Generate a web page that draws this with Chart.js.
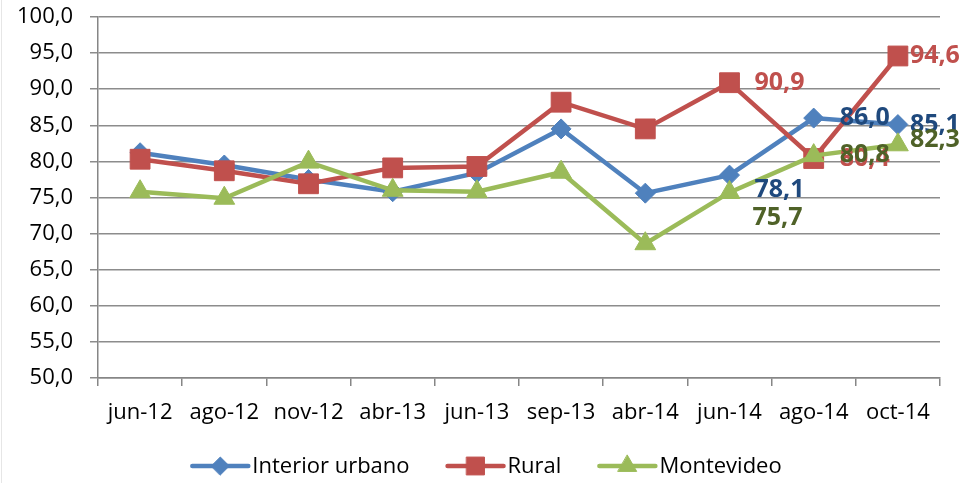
<!DOCTYPE html>
<html>
<head>
<meta charset="utf-8">
<script src="https://cdn.jsdelivr.net/npm/chart.js@4"></script>
<style>
  html, body { margin: 0; padding: 0; background: #fff; }
  #wrap { width: 963px; height: 483px; position: relative; }
</style>
</head>
<body>
<div id="wrap"><canvas id="chart" width="963" height="483"></canvas></div>
<script>
const categories = ["jun-12", "ago-12", "nov-12", "abr-13", "jun-13", "sep-13", "abr-14", "jun-14", "ago-14", "oct-14"];
const interiorUrbano = [81.2, 79.5, 77.5, 75.8, 78.4, 84.5, 75.6, 78.1, 86.0, 85.1];
const rural = [80.3, 78.7, 76.9, 79.1, 79.3, 88.2, 84.5, 90.9, 80.4, 94.6];
const montevideo = [75.8, 74.9, 79.9, 76.0, 75.8, 78.5, 68.6, 75.7, 80.8, 82.3];
const seriesNames = ["Interior urbano", "Rural", "Montevideo"];
const yMin = 50;
const yMax = 100;
const yStep = 5;
const labeledPoints = [7, 8, 9];

const fmt = (v) => v.toFixed(1).replace(".", ",");
const FONT = "'Open Sans', 'Noto Sans', sans-serif";

// label offsets (dx, dy) relative to the point, per series
const labelStyle = [
  { color: "#1F497D", offsets: [[25, 15], [26, 0], [12, 0]] },
  { color: "#C0504D", offsets: [[25, 0], [26, 0], [12, 0]] },
  { color: "#4F6228", offsets: [[23, 25], [26, -1], [12, -5]] },
];

const valueLabels = {
  id: "valueLabels",
  afterDatasetsDraw(chart) {
    const ctx = chart.ctx;
    ctx.save();
    ctx.font = "bold 25px " + FONT;
    ctx.textAlign = "left";
    ctx.textBaseline = "middle";
    chart.data.datasets.forEach((ds, di) => {
      const meta = chart.getDatasetMeta(di);
      labeledPoints.forEach((idx, k) => {
        const pt = meta.data[idx];
        const [dx, dy] = labelStyle[di].offsets[k];
        ctx.fillStyle = labelStyle[di].color;
        ctx.fillText(fmt(ds.data[idx]), pt.x + dx, pt.y + dy);
      });
    });
    ctx.restore();
  },
};

const lineLegend = {
  id: "lineLegend",
  afterDraw(chart) {
    const ctx = chart.ctx;
    const y = 466;
    const lineLen = 56;
    const gap = 4;
    const itemGap = 38;
    ctx.save();
    // faint frame edge on the left, as in the source
    ctx.strokeStyle = "#e6e6e6";
    ctx.lineWidth = 1;
    ctx.beginPath();
    ctx.moveTo(1.5, 0);
    ctx.lineTo(1.5, chart.height);
    ctx.stroke();

    ctx.font = "22px " + FONT;
    ctx.textBaseline = "middle";
    const items = chart.data.datasets.map((ds) => ({ ds, w: ctx.measureText(ds.label).width }));
    const total = items.reduce((s, it) => s + lineLen + gap + it.w, 0) + itemGap * (items.length - 1);
    let x = 487 - total / 2;
    items.forEach(({ ds, w }) => {
      ctx.strokeStyle = ds.borderColor;
      ctx.lineWidth = 4.5;
      ctx.lineCap = "round";
      ctx.beginPath();
      ctx.moveTo(x, y);
      ctx.lineTo(x + lineLen, y);
      ctx.stroke();
      ctx.fillStyle = ds.backgroundColor;
      ctx.strokeStyle = ds.borderColor;
      ctx.lineWidth = 1;
      Chart.helpers.drawPoint(ctx, { pointStyle: ds.pointStyle, radius: ds.pointRadius * 0.9, borderWidth: 1 }, x + lineLen / 2, y);
      ctx.fillStyle = "#000";
      ctx.fillText(ds.label, x + lineLen + gap, y + 1);
      x += lineLen + gap + w + itemGap;
    });
    ctx.restore();
  },
};

new Chart(document.getElementById("chart"), {
  type: "line",
  data: {
    labels: categories,
    datasets: [
      {
        label: seriesNames[0],
        data: interiorUrbano,
        borderColor: "#4F81BD",
        backgroundColor: "#4F81BD",
        borderWidth: 4.5,
        pointStyle: "rectRot",
        pointRadius: 10,
        pointBorderWidth: 1,
        order: 3,
      },
      {
        label: seriesNames[1],
        data: rural,
        borderColor: "#C0504D",
        backgroundColor: "#C0504D",
        borderWidth: 4.5,
        pointStyle: "rect",
        pointRadius: 14,
        pointBorderWidth: 1,
        order: 2,
      },
      {
        label: seriesNames[2],
        data: montevideo,
        borderColor: "#9BBB59",
        backgroundColor: "#9BBB59",
        borderWidth: 4.5,
        pointStyle: "triangle",
        pointRadius: 12,
        pointBorderWidth: 1,
        order: 1,
      },
    ],
  },
  options: {
    responsive: false,
    animation: false,
    devicePixelRatio: 1,
    layout: { padding: { top: 17, right: 23, bottom: 55, left: 0 } },
    plugins: {
      legend: { display: false },
      tooltip: { enabled: false },
    },
    scales: {
      x: {
        offset: true,
        grid: {
          offset: true,
          drawOnChartArea: false,
          drawTicks: true,
          tickLength: 8,
          color: "#868686",
          lineWidth: 1.5,
        },
        border: { color: "#868686", width: 1.5 },
        ticks: {
          color: "#000",
          font: { family: FONT, size: 22 },
          padding: 14,
          maxRotation: 0,
          autoSkip: false,
        },
        afterFit(scale) { scale.height = 50; },
      },
      y: {
        min: yMin,
        max: yMax,
        grid: {
          color: "#8C8C8C",
          lineWidth: 1.5,
          tickLength: 8,
        },
        border: { color: "#868686", width: 1.5 },
        ticks: {
          stepSize: yStep,
          color: "#000",
          font: { family: FONT, size: 22 },
          padding: 17,
          callback: (v) => fmt(v),
        },
        afterFit(scale) {
          scale.width = 98;
          scale.paddingTop = 0;
          scale.paddingBottom = 0;
        },
      },
    },
  },
  plugins: [valueLabels, lineLegend],
});
</script>
</body>
</html>
